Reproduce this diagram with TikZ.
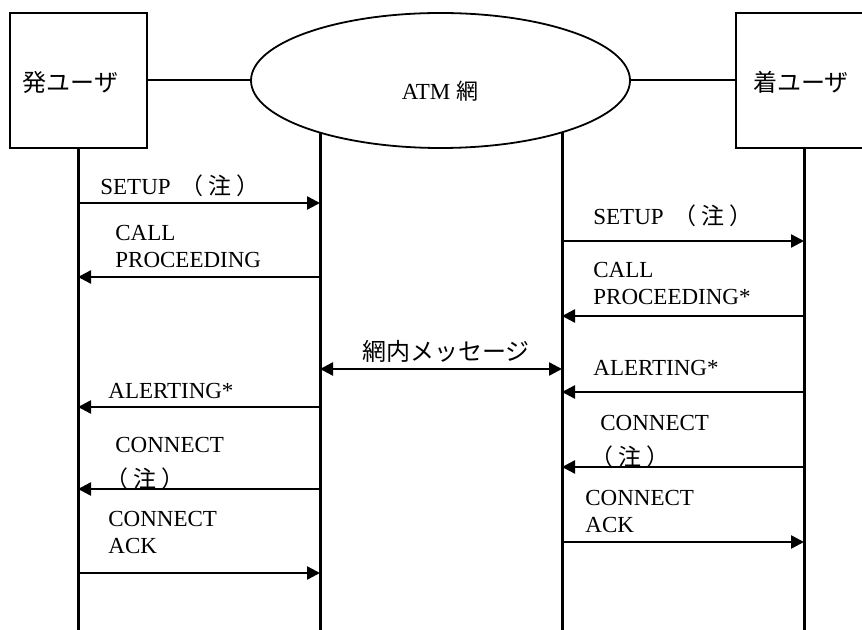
\documentclass[tikz,border=0pt]{standalone}
\usepackage{fontspec}
\setmainfont{Liberation Serif}
\newfontfamily\jp{Noto Sans CJK JP}
\usetikzlibrary{shapes.geometric,arrows.meta}

\newcommand{\chuu}{{\jp （\hspace{2.5pt}注\hspace{2.5pt}）}}

\tikzset{
  userbox/.style={draw, line width=0.75pt, minimum width=68.5pt, minimum height=67.5pt, inner sep=0pt},
  netcloud/.style={draw, ellipse, line width=0.9pt, minimum width=189.5pt, minimum height=67.5pt, inner sep=0pt, fill=white},
  link/.style={line width=1pt},
  life/.style={line width=1.5pt},
  msg/.style={line width=1.2pt, -{Triangle[length=6.5pt,width=6.5pt]}},
  dmsg/.style={line width=1.2pt, {Triangle[length=6.5pt,width=6.5pt]}-{Triangle[length=6.5pt,width=6.5pt]}},
  lbl/.style={anchor=west, align=left, inner sep=0pt, font=\fontsize{11.5}{13.5}\selectfont},
  jplbl/.style={inner sep=0pt, font=\jp\fontsize{12}{14}\selectfont}
}

\begin{document}
\begin{tikzpicture}[x=0.5pt, y=-0.5pt]
\useasboundingbox (0,0) rectangle (862,630);

% users and network
\node[userbox] (caller) at (78.5,80.5) {};
\node[userbox] (callee) at (804.5,80.5) {};
\node[netcloud] (atm) at (440.5,80.5) {};
\node[jplbl] (callername) at (70.5,82) {発ユーザ};
\node[jplbl] (calleename) at (801,82) {着ユーザ};
\node[inner sep=0pt, font=\fontsize{11.5}{13.5}\selectfont] (atmname) at (440,91) {ATM {\jp\fontsize{11}{13}\selectfont 網}};

\draw[link] (caller.east) -- (atm.west);
\draw[link] (atm.east) -- (callee.west);

% lifelines
\coordinate (u1) at (78,148);
\coordinate (n1) at (320,132);
\coordinate (n2) at (562,132);
\coordinate (u2) at (804,148);
\draw[life] (u1) -- (u1 |- 0,630);
\draw[life] (n1) -- (n1 |- 0,630);
\draw[life] (n2) -- (n2 |- 0,630);
\draw[life] (u2) -- (u2 |- 0,630);

% caller side
\draw[msg] (u1 |- 0,203) -- (n1 |- 0,203);
\draw[msg] (n1 |- 0,277) -- (u1 |- 0,277);
\draw[msg] (n1 |- 0,407) -- (u1 |- 0,407);
\draw[msg] (n1 |- 0,489) -- (u1 |- 0,489);
\draw[msg] (u1 |- 0,573) -- (n1 |- 0,573);
\node[lbl] (setupA) at (100,186) {SETUP\hspace{5pt}\chuu};
\node[lbl] (procA) at (115,246.5) {CALL\\PROCEEDING};
\node[lbl] (alertA) at (108,391) {ALERTING*};
\node[lbl] (connA) at (115,463) {CONNECT\\[4pt]\hspace*{-5pt}\chuu};
\node[lbl] (ackA) at (108,532.5) {CONNECT\\ACK};

% network
\draw[dmsg] (n1 |- 0,369) -- (n2 |- 0,369);
\node[jplbl] (netmsg) at (446,351) {網内メッセージ};

% callee side
\draw[msg] (n2 |- 0,241) -- (u2 |- 0,241);
\draw[msg] (u2 |- 0,316) -- (n2 |- 0,316);
\draw[msg] (u2 |- 0,392) -- (n2 |- 0,392);
\draw[msg] (u2 |- 0,467) -- (n2 |- 0,467);
\draw[msg] (n2 |- 0,542) -- (u2 |- 0,542);
\node[lbl] (setupB) at (593,216) {SETUP\hspace{5pt}\chuu};
\node[lbl] (procB) at (593,284) {CALL\\PROCEEDING*};
\node[lbl] (alertB) at (593,368) {ALERTING*};
\node[lbl] (connB) at (600,441) {CONNECT\\[4pt]\hspace*{-5pt}\chuu};
\node[lbl] (ackB) at (585,511) {CONNECT\\ACK};
\end{tikzpicture}
\end{document}
